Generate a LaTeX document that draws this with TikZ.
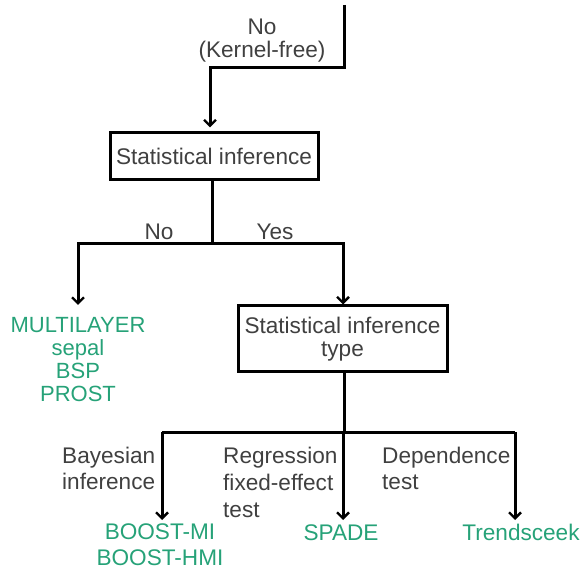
\documentclass[tikz,border=0pt]{standalone}
\usepackage{fontspec}
\setmainfont{Liberation Sans}
\usetikzlibrary{arrows.meta}
\definecolor{labelgray}{RGB}{64,64,64}
\definecolor{toolgreen}{RGB}{38,162,120}
\tikzset{
  wire/.style={line width=3pt, draw=black},
  arrowwire/.style={wire, -{Straight Barb[length=6pt,width=12pt,line width=2.4pt]}},
  decision/.style={draw=black, line width=3pt, fill=white, inner sep=0pt,
    align=center, text=labelgray},
  edgelabel/.style={inner sep=0pt, text=labelgray, anchor=base},
  tool/.style={inner sep=0pt, text=toolgreen, anchor=base, align=center},
}
\begin{document}
\begin{tikzpicture}[x=1pt, y=-1pt,
  every node/.style={font=\fontsize{22.6}{23.5}\selectfont}]
\useasboundingbox (0,0) rectangle (584,569);

% decision boxes
\node[decision, minimum width=208pt, minimum height=47pt] (b1) at (214,156.5)
  {Statistical inference};
\node[decision, minimum width=209pt, minimum height=66pt] (b2) at (342.5,339)
  {Statistical inference\\type};

% incoming branch from above
\coordinate (top) at (344,5);
\coordinate (topbend) at (344,68);
\draw[arrowwire, shorten >=4pt] (top) -- (topbend) -| ([xshift=-4pt]b1.north);
% multi-line nodes sit on the baseline of their last line
\node[edgelabel, align=center, font=\fontsize{22.6}{23}\selectfont] (kf) at (262,58)
  {No\\(Kernel-free)};

% first split: statistical inference or not
\coordinate (split1) at (212,244);
\coordinate (leftdrop) at (78,244);
\coordinate (rightdrop) at (343,244);
\node[tool, font=\fontsize{22}{23.3}\selectfont] (multi) at (78,402)
  {MULTILAYER\\sepal\\BSP\\PROST};
\draw[wire] ([xshift=-2pt]b1.south) -- (split1);
\draw[arrowwire] (split1) -- (leftdrop) -- (78,305);
\draw[arrowwire] (split1) -- (rightdrop) -- (b2.north -| rightdrop);
\node[edgelabel] (no) at (159,240) {No};
\node[edgelabel] (yes) at (275,240) {Yes};

% second split: inference type
\coordinate (split2) at (344,432);
\coordinate (bayes) at (162,432);
\coordinate (dep) at (515,432);
\draw[wire] ([xshift=1.5pt]b2.south) -- (split2);
\draw[wire] (bayes) -- (dep);
\draw[arrowwire] (bayes) -- (162,520);
\draw[arrowwire] (343,432) -- (343,520);
\draw[arrowwire] (dep) -- (515,520);

\node[edgelabel, anchor=base west, align=left, font=\fontsize{22.6}{26}\selectfont]
  (lb) at (62,489) {Bayesian\\inference};
\node[edgelabel, anchor=base west, align=left, font=\fontsize{22.6}{27}\selectfont]
  (lr) at (223,517) {Regression\\fixed-effect\\test};
\node[edgelabel, anchor=base west, align=left, font=\fontsize{22.6}{26}\selectfont]
  (ld) at (382,489) {Dependence\\test};

% methods
\node[tool, font=\fontsize{22.6}{26}\selectfont] (boost) at (160,565)
  {BOOST-MI\\BOOST-HMI};
\node[tool] (spade) at (341,540) {SPADE};
\node[tool] (trend) at (521,540) {Trendsceek};
\end{tikzpicture}
\end{document}
